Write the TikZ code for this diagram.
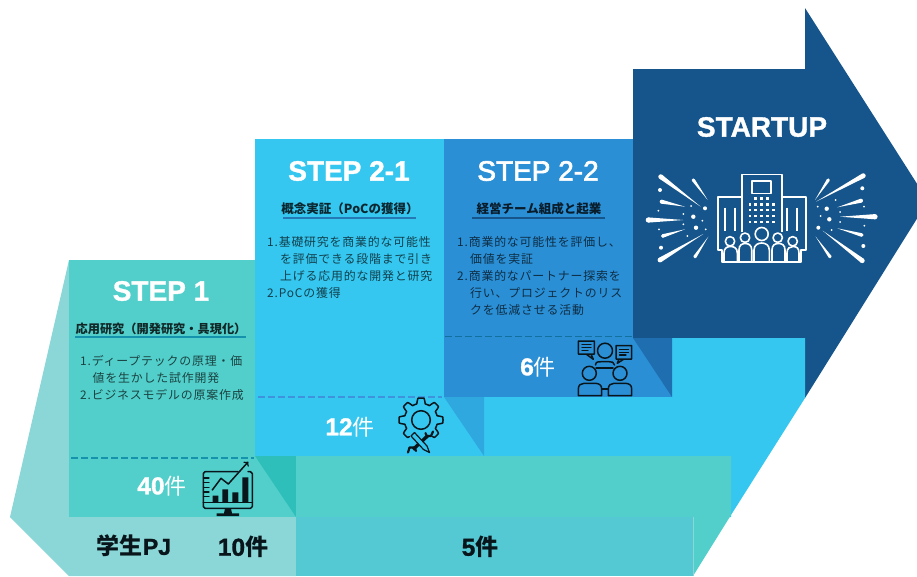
\documentclass[tikz,border=0pt]{standalone}
\usepackage{fontspec}
\usetikzlibrary{calc}
\newfontfamily\titlefont{Liberation Sans}[BoldFeatures={FakeBold=1.2}]
\newfontfamily\titlemed{Liberation Sans}[FakeBold=2.4]
\newfontfamily\jpfont{Noto Sans CJK JP}
\newfontfamily\jpbody{Noto Sans CJK JP}[LetterSpace=7]
\definecolor{arrowdark}{HTML}{15558B}
\definecolor{stepmid}{HTML}{2B8FD6}
\definecolor{steplight}{HTML}{36C7F0}
\definecolor{stepteal}{HTML}{52CFCB}
\definecolor{palteal}{HTML}{8BD6D6}
\definecolor{basemid}{HTML}{55C9D3}
\definecolor{foldteal}{HTML}{2FBFBB}
\definecolor{foldlight}{HTML}{2FA8DF}
\definecolor{folddark}{HTML}{1F6FB0}
\definecolor{iconink}{HTML}{08161C}
\definecolor{ruleteal}{HTML}{1593AD}
\definecolor{ruleblue}{HTML}{3F93DC}
\definecolor{ruledeep}{HTML}{12709F}
\tikzset{
  steptitle/.style={text=white,inner sep=0pt,font=\titlefont\fontsize{28}{28}\selectfont\bfseries},
  stephead/.style={text=black,text opacity=.8,inner sep=0pt,font=\jpfont\fontsize{12.5}{13}\selectfont\bfseries},
  stepbody/.style={anchor=west,text=black,text opacity=.68,inner sep=0pt,text height=9pt,text depth=2pt,font=\jpbody\fontsize{11.9}{12}\selectfont},
  stepcount/.style={text=white,inner sep=0pt,font=\fontsize{22}{22}\selectfont},
  basecount/.style={text=iconink,inner sep=0pt,font=\fontsize{23}{23}\selectfont\bfseries},
  stepdash/.style={line width=1.5pt,dash pattern=on 6.5pt off 3.5pt},
  icon/.style={draw=iconink,line width=1.5pt,line join=round,line cap=round},
  wicon/.style={draw=white,line width=1.6pt,line join=round},
}
% digits of the counts, a little larger than the kanji next to them
\newcommand{\countnum}[1]{{\titlefont\bfseries\fontsize{24.5}{24}\selectfont #1}}
% tapered ray of the burst: wide end, thin end, half width
\newcommand{\burstray}[3]{
  \fill[white] ($(#1)!#3!90:(#2)$) -- (#2) -- ($(#1)!#3!-90:(#2)$) -- cycle;
  \fill[white] (#1) circle (#3);
}
\begin{document}
\begin{tikzpicture}[x=1pt,y=-1pt]
\useasboundingbox (0,0) rectangle (917,576);
\clip (0,0) rectangle (917,576);
% big arrow
\fill[arrowdark] (633,69) -- (805,69) -- (805,8) -- (928,201) -- (805,398) -- (633,398) -- cycle;
\fill[steplight] (484,338) -- (805,338) -- (805,398) -- (731,515) -- (731,517) -- (484,517) -- cycle;
% step 2-1
\fill[steplight] (255,139) rectangle (484,456);
\fill[foldlight] (444,397) -- (484,397) -- (484,456) -- cycle;
% step 2-2
\fill[stepmid] (444,139) rectangle (633,397);
\fill[stepmid] (633,338) rectangle (672,397);
\fill[folddark] (633,338) -- (672,338) -- (672,397) -- cycle;
% step 1 and the base
\fill[palteal] (69,260) -- (69,517) -- (10,517) -- cycle;
\fill[stepteal] (69,260) rectangle (255,517);
\fill[stepteal] (255,456) rectangle (296,517);
\fill[foldteal] (255,456) -- (296,456) -- (296,517) -- cycle;
\fill[stepteal] (296,456) -- (731,456) -- (731,515) -- (693,576) -- (693,517) -- (296,517) -- cycle;
\fill[palteal] (10,517) -- (296,517) -- (296,576) -- (69,576) -- cycle;
\fill[basemid] (296,517) rectangle (693,576);
\draw[palteal,line width=.8pt] (693,517) -- (693,576);
% dashed and plain rules
\draw[stepdash,draw=ruleteal] (71,458) -- (254,458);
\draw[stepdash,draw=ruleblue] (258,397) -- (442,397);
\draw[stepdash,draw=ruledeep] (445,336.5) -- (632,336.5);
\draw[line width=1.5pt,draw=ruleteal] (75,337) -- (246,337);
\draw[line width=1.5pt,draw=stepmid!85!black] (283,218) -- (416,218);
\draw[line width=1.5pt,draw=arrowdark] (472,218) -- (605,218);
% step 1 text
\node[steptitle] (titleA) at (161,291) {STEP 1};
\node[stephead,font=\jpfont\fontsize{12.2}{13}\selectfont\bfseries] (headA) at (161,329) {応用研究（開発研究・具現化）};
\node[stepbody] (bodyAa) at (80,362) {1.ディープテックの原理・価};
\node[stepbody] (bodyAb) at (92.5,379) {値を生かした試作開発};
\node[stepbody] (bodyAc) at (80,396) {2.ビジネスモデルの原案作成};
\node[stepcount] (countA) at (162,486) {\countnum{40}{\jpfont 件}};
% step 2-1 text
\node[steptitle] (titleB) at (349,171) {STEP 2-1};
\node[stephead] (headB) at (350,209) {概念実証（PoCの獲得）};
\node[stepbody] (bodyBa) at (267,243) {1.基礎研究を商業的な可能性};
\node[stepbody] (bodyBb) at (280,260) {を評価できる段階まで引き};
\node[stepbody] (bodyBc) at (280,277) {上げる応用的な開発と研究};
\node[stepbody] (bodyBd) at (267,294) {2.PoCの獲得};
\node[stepcount] (countB) at (350,427) {\countnum{12}{\jpfont 件}};
% step 2-2 text
\node[steptitle,font=\titlemed\fontsize{28}{28}\selectfont] (titleC) at (538,171) {STEP 2-2};
\node[stephead] (headC) at (539,209) {経営チーム組成と起業};
\node[stepbody] (bodyCa) at (457,243) {1.商業的な可能性を評価し、};
\node[stepbody] (bodyCb) at (470,260) {価値を実証};
\node[stepbody] (bodyCc) at (457,276.5) {2.商業的なパートナー探索を};
\node[stepbody] (bodyCd) at (470,293.5) {行い、プロジェクトのリス};
\node[stepbody] (bodyCe) at (470,311) {クを低減させる活動};
\node[stepcount] (countC) at (538,367) {\countnum{6}{\jpfont 件}};
% startup and base text
\node[steptitle] (titleD) at (762,127) {STARTUP};
\node[basecount] (baseA) at (134,546) {{\jpfont\bfseries 学生}{\titlefont\bfseries PJ}};
\node[basecount] (baseB) at (243,547) {\countnum{10}{\jpfont\bfseries 件}};
\node[basecount] (baseC) at (480,547) {\countnum{5}{\jpfont\bfseries 件}};
% chart icon
\draw[icon] (238,471.7) -- (205,471.7) -- (203.3,473.5) -- (203.3,506.5) -- (205,508.3) -- (250.5,508.3) -- (252.3,506.5) -- (252.3,473.5) -- (250.5,471.7) -- (248,471.7);
\draw[icon] (203.3,502.7) -- (252.3,502.7);
\foreach \y in {478,482.7,487.3,492,496.7} \draw[icon,line width=1.1pt] (203.3,\y) -- (209,\y);
\fill[iconink] (212.7,495.7) rectangle (218.3,502.7) (222.3,489.3) rectangle (228,502.7)
  (232.3,492.3) rectangle (238.3,502.7) (242.3,477.3) rectangle (248.3,502.7);
\fill[iconink] (225,508.3) -- (231,508.3) -- (232,513.3) -- (239,513.3) -- (239,516) -- (216.7,516) -- (216.7,513.3) -- (224,513.3) -- cycle;
\draw[icon,->] (212.3,490) -- (221,478.3) -- (228.3,484) -- (248.3,461.7);
% gear icon
\draw[icon,domain=125:415,samples=240] plot ({421+(19.3+2.7*min(1,max(-1,2.2*cos(8*\x))))*cos(\x)},{420+(19.3+2.7*min(1,max(-1,2.2*cos(8*\x))))*sin(\x)});
\draw[icon] (421,420) circle (9.3);
\draw[icon,line width=3.4pt,line cap=butt] (428,435.5) -- (413,449.5);
\draw[icon,line width=2.2pt] (433,431.5) -- (431,436) -- (426.5,436) -- (425.5,433);
\draw[icon,line width=2.2pt] (408,452.5) -- (409.5,447.5) -- (414.5,447.5) -- (416,451);
\filldraw[icon,line width=1.2pt,fill=steplight] (411,436) -- (414.5,432.5) -- (427,446) -- (429.5,452.5) -- (423.5,449.5) -- cycle;
% meeting icon
\draw[icon] (605,350.7) circle (7.5);
\draw[icon] (589.3,373.3) circle (7);
\draw[icon] (620,373.3) circle (7);
\draw[icon] (595.5,365) .. controls (596,361.5) and (598,361.7) .. (601,361.7) -- (609,361.7) .. controls (612,361.7) and (614,362) .. (614.5,365);
\draw[icon] (596,368) -- (613,368);
\draw[icon] (578.3,395.7) -- (578.3,389) .. controls (578.3,385) and (581,383.3) .. (584,383.3) -- (595,383.3) .. controls (599,383.3) and (601.7,385) .. (601.7,389) -- (601.7,395.7) -- cycle;
\draw[icon] (608.3,395.7) -- (608.3,389) .. controls (608.3,385) and (611,383.3) .. (614,383.3) -- (625,383.3) .. controls (629,383.3) and (631.7,385) .. (631.7,389) -- (631.7,395.7) -- cycle;
\draw[icon] (601.7,389) -- (608.3,389);
\draw[icon] (578.3,341) rectangle (594.3,354) (586,354) -- (593.3,359.3) -- (591,354);
\draw[icon,line width=1.1pt] (582,344.7) -- (591,344.7) (582,347.5) -- (591,347.5) (582,350.3) -- (588,350.3);
\draw[icon] (616,345.7) rectangle (631.7,359) (619,359) -- (617.3,363.3) -- (624,359);
\draw[icon,line width=1.1pt] (619.5,349.5) -- (628.5,349.5) (619.5,352.3) -- (628.5,352.3) (619.5,355) -- (626,355);
% startup icon: building
\draw[wicon] (741.7,232) -- (741.7,174.3) -- (781.7,174.3) -- (781.7,232);
\draw[wicon] (751.7,180.7) rectangle (771,193.3);
\draw[wicon] (741.7,197) -- (718,197) -- (718,250) -- (722,250) -- (722,261.7) -- (801,261.7) -- (801,250) -- (805.7,250) -- (805.7,197) -- (781.7,197);
\foreach \x in {755.7,761.7,767.3} \fill[white] (\x-1.4,196.9) rectangle (\x+1.4,199.7);
\foreach \x in {750,755.7,761.7,767.3,773.3} \foreach \y in {204.3,210,216,222} \fill[white] (\x-1.4,\y-1.4) rectangle (\x+1.4,\y+1.4);
\foreach \x in {725,735,786.7,797} \draw[wicon] (\x,207.7) -- (\x,230.7);
% startup icon: people
\foreach \x/\y/\r in {761.7/234/6.5,745/237.7/4.7,777.7/237.7/4.7,730/241.3/4.7,792.7/241.3/4.7} \draw[wicon] (\x,\y) circle (\r);
\draw[wicon] (754,261.7) -- (754,250) .. controls (754,245) and (758,243) .. (761.7,243) .. controls (765.5,243) and (769.3,245) .. (769.3,250) -- (769.3,261.7);
\draw[wicon] (739,261.7) -- (739,250) .. controls (739,245) and (742,243.5) .. (745.3,243.5) .. controls (748.5,243.5) and (751.7,245) .. (751.7,250) -- (751.7,261.7);
\draw[wicon] (772,261.7) -- (772,250) .. controls (772,245) and (775,243.5) .. (778.5,243.5) .. controls (782,243.5) and (785,245) .. (785,250) -- (785,261.7);
\draw[wicon] (724,261.7) -- (724,253) .. controls (724,248) and (727,246.5) .. (730.7,246.5) .. controls (734,246.5) and (737.3,248) .. (737.3,253) -- (737.3,261.7);
\draw[wicon] (787,261.7) -- (787,253) .. controls (787,248) and (790,246.5) .. (793,246.5) .. controls (796.5,246.5) and (799,248) .. (799,253) -- (799,261.7);
% startup icon: left burst
\burstray{660.7,176.7}{700.7,206.7}{2.4pt}
\burstray{693.3,180}{707.7,200}{1.6pt}
\burstray{661.7,201.7}{685,206.7}{2pt}
\burstray{648.3,220}{683.3,220}{2.6pt}
\burstray{662.7,236}{685,229.3}{1.8pt}
\burstray{660,260}{703.3,234}{2.4pt}
\burstray{695,256.7}{708.3,236.7}{1.6pt}
\foreach \x/\y/\r in {660/190/2,705/208.3/2,693.3/216.7/2.2,696/227.7/2.2,661/247.7/2,658.3/210.7/1,691/206/1,683.3/214/1,702.3/220.7/1,683.3/224.3/1,659/229.3/1,687.3/236/1,705.7/229.3/1} \fill[white] (\x,\y) circle (\r);
% startup icon: right burst
\burstray{863.3,175.7}{816,201.7}{2.4pt}
\burstray{828.3,180}{815,200}{1.6pt}
\burstray{861,200.7}{837.3,207.3}{2pt}
\burstray{875,216.7}{840,216.7}{2.6pt}
\burstray{861.7,235}{837.3,228.3}{1.8pt}
\burstray{862.3,260.7}{822.7,230.7}{2.4pt}
\burstray{830,256.7}{815.7,236.7}{1.6pt}
\foreach \x/\y/\r in {862.3/188.3/2,826.7/208.7/2.2,829.3/219.3/2.2,818.3/227.7/2,863.3/246/2,835.7/200/1,864/206.7/1,817.7/206.7/1,840/212/1,820.7/216/1,840/222/1,864.3/225.7/1,831.7/230/1} \fill[white] (\x,\y) circle (\r);
\end{tikzpicture}
\end{document}
